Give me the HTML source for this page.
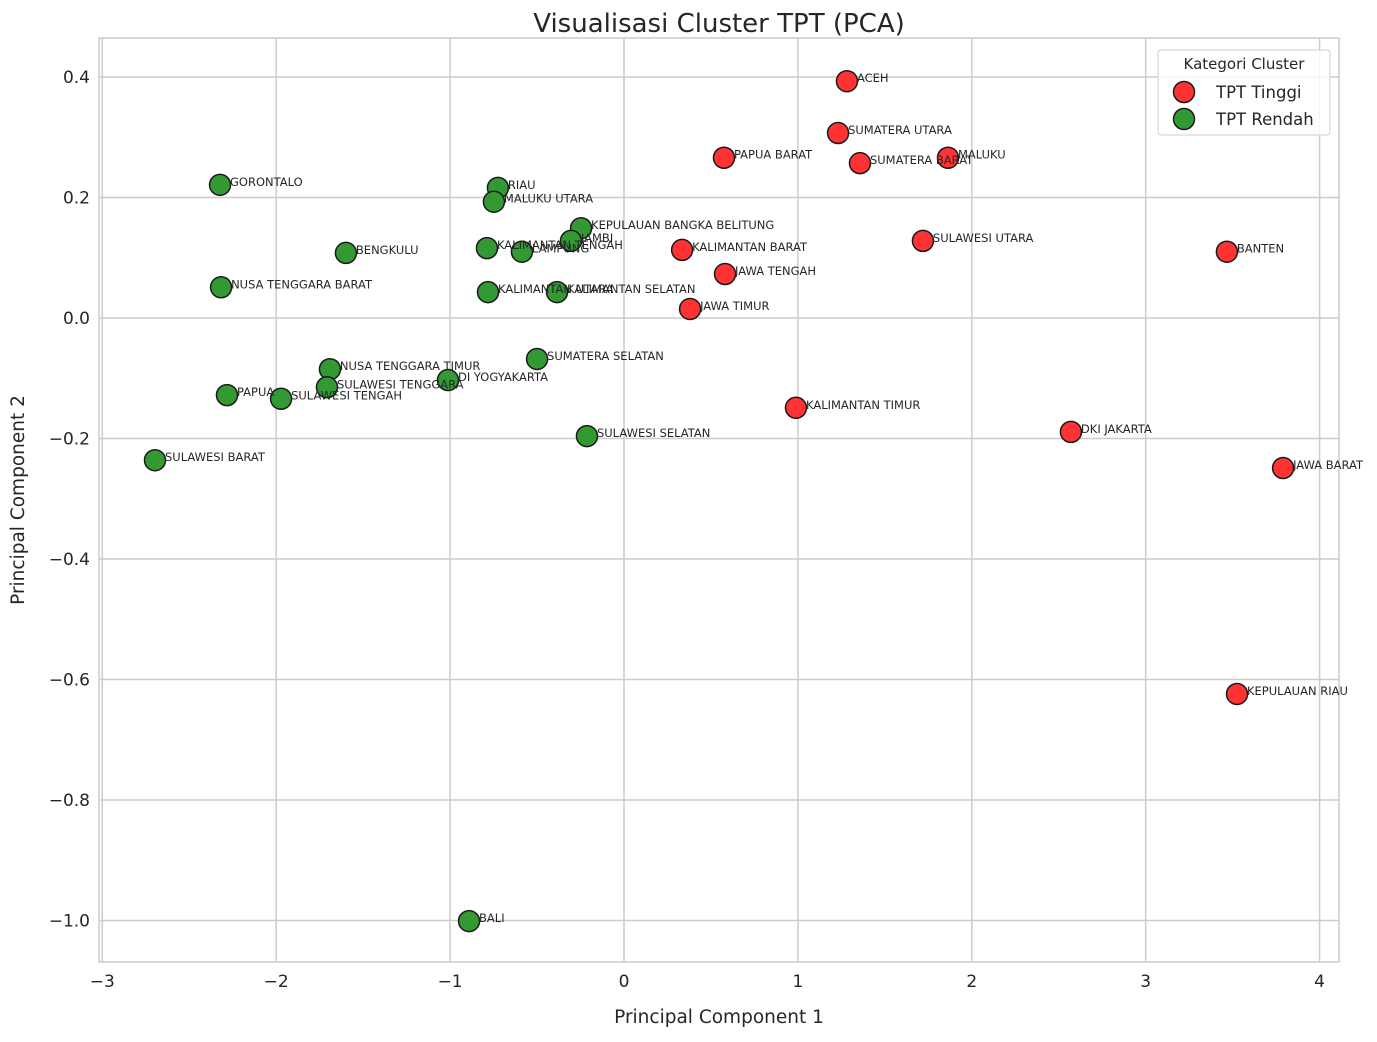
<!DOCTYPE html>
<html><head><meta charset="utf-8"><style>
body{margin:0;background:#fff;}
svg text{font-family:"DejaVu Sans","Liberation Sans",sans-serif;fill:#262626;}
</style></head><body>
<svg id="chart" width="1377" height="1037" xmlns="http://www.w3.org/2000/svg">
<rect x="0" y="0" width="1377" height="1037" fill="#fff"/>
<text x="719" y="32" font-size="26" text-anchor="middle">Visualisasi Cluster TPT (PCA)</text>
<g id="grid"></g>
<rect x="99" y="38" width="1240" height="924" fill="none" stroke="#cccccc" stroke-width="1.5"/>
<g id="ticks"></g>
<g id="points"></g>
<text x="719" y="1023" font-size="18.5" text-anchor="middle">Principal Component 1</text>
<text x="24" y="500" font-size="18.5" text-anchor="middle" transform="rotate(-90 24 500)">Principal Component 2</text>
<g>
<rect x="1158" y="50" width="172" height="85" rx="3" fill="#fff" fill-opacity="0.8" stroke="#cccccc"/>
<text x="1244" y="69" font-size="15" text-anchor="middle">Kategori Cluster</text>
<g>
<circle cx="1184" cy="92" r="10.5" fill="#ff3333" stroke="#1a1a1a" stroke-width="1.5"/>
<text x="1216" y="98" font-size="16.5">TPT Tinggi</text></g>
<g>
<circle cx="1184" cy="119" r="10.5" fill="#339933" stroke="#1a1a1a" stroke-width="1.5"/>
<text x="1216" y="125" font-size="16.5">TPT Rendah</text></g>
</g>
</svg>
<script>
const xTicks=[-3,-2,-1,0,1,2,3,4];
const yTicks=[0.4,0.2,0.0,-0.2,-0.4,-0.6,-0.8,-1.0];
const redNames=["ACEH","SUMATERA UTARA","PAPUA BARAT","SUMATERA BARAT","MALUKU","SULAWESI UTARA","BANTEN","KALIMANTAN BARAT","JAWA TENGAH","JAWA TIMUR","KALIMANTAN TIMUR","DKI JAKARTA","JAWA BARAT","KEPULAUAN RIAU"];
const redX=[1.282,1.231,0.575,1.357,1.863,1.719,3.467,0.334,0.581,0.380,0.989,2.570,3.790,3.525];
const redY=[0.393,0.307,0.266,0.257,0.266,0.128,0.110,0.113,0.073,0.015,-0.149,-0.189,-0.249,-0.624];
const greenNames=["GORONTALO","RIAU","MALUKU UTARA","KEPULAUAN BANGKA BELITUNG","JAMBI","KALIMANTAN TENGAH","LAMPUNG","BENGKULU","NUSA TENGGARA BARAT","KALIMANTAN UTARA","KALIMANTAN SELATAN","SUMATERA SELATAN","NUSA TENGGARA TIMUR","SULAWESI TENGGARA","DI YOGYAKARTA","PAPUA","SULAWESI TENGAH","SULAWESI SELATAN","SULAWESI BARAT","BALI"];
const greenX=[-2.323,-0.725,-0.748,-0.247,-0.305,-0.788,-0.587,-1.599,-2.317,-0.782,-0.385,-0.500,-1.691,-1.708,-1.012,-2.283,-1.972,-0.213,-2.697,-0.891];
const greenY=[0.221,0.216,0.193,0.149,0.128,0.116,0.110,0.108,0.051,0.043,0.043,-0.068,-0.085,-0.115,-0.103,-0.128,-0.134,-0.196,-0.236,-1.001];
const NS="http://www.w3.org/2000/svg";
function sx(v){return 624+v*173.9;}
function sy(v){return 318-v*602.5;}
function mk(t,a,p){const e=document.createElementNS(NS,t);for(const k in a)e.setAttribute(k,a[k]);p.appendChild(e);return e;}
const grid=document.getElementById('grid'),ticks=document.getElementById('ticks'),pts=document.getElementById('points');
xTicks.forEach(v=>{
 const l=mk('line',{x1:sx(v),x2:sx(v),y1:38,y2:962,stroke:'#cccccc','stroke-width':1.5},grid);
 
 
 const t=mk('text',{x:sx(v),y:987,'font-size':17,'text-anchor':'middle'},ticks);
 t.textContent=String(v).replace('-','\u2212');
 
 
});
yTicks.forEach(v=>{
 const l=mk('line',{x1:99,x2:1339,y1:sy(v),y2:sy(v),stroke:'#cccccc','stroke-width':1.5},grid);
 
 
 const t=mk('text',{x:90,y:sy(v)+6,'font-size':17,'text-anchor':'end'},ticks);
 t.textContent=v.toFixed(1).replace('-','\u2212');
 
 
});
function series(names,xs,ys,col){
 names.forEach((n,i)=>{
  const c=mk('circle',{cx:sx(xs[i]),cy:sy(ys[i]),r:10.5,fill:col,stroke:'#1a1a1a','stroke-width':1.5},pts);
  
  
 });
 names.forEach((n,i)=>{
  const t=mk('text',{x:sx(xs[i])+10,y:sy(ys[i])+1,'font-size':11.5},pts);
  t.textContent=n;
  
  
 });
}
series(redNames,redX,redY,'#ff3333');
series(greenNames,greenX,greenY,'#339933');
</script>
</body></html>
